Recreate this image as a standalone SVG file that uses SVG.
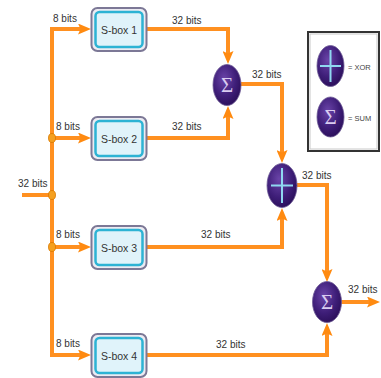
<svg xmlns="http://www.w3.org/2000/svg" width="381" height="378" viewBox="0 0 381 378">
<style>
.lbl{font-family:"Liberation Sans",Arial,sans-serif;font-size:10px;fill:#333}
.sbt{font-family:"Liberation Sans",Arial,sans-serif;font-size:10.5px;fill:#333;text-anchor:middle}
.leg{font-family:"Liberation Sans",Arial,sans-serif;font-size:7.5px;fill:#444}
.wire{fill:none;stroke:#ff9020;stroke-width:4;stroke-linejoin:miter}
.arr{marker-end:url(#ah)}
.outer{fill:#ecebf2;stroke:#7c7896;stroke-width:2}
.inner{fill:#e0f3fa;stroke:#2db3d4;stroke-width:2.5}
.op{fill:url(#pg);stroke:#6d5a96;stroke-width:0.8}
.sig{font-family:"Liberation Serif","DejaVu Serif",serif;font-size:21px;fill:#d9ccf0;text-anchor:middle}
.plus{stroke:#8fd8f0;stroke-width:2;fill:none}
.dot{fill:#f5a020;stroke:#d87800;stroke-width:0.8}
</style>
<defs>
<marker id="ah" markerUnits="userSpaceOnUse" viewBox="0 0 13 11" refX="5" refY="5.5" markerWidth="13" markerHeight="11" orient="auto">
<path d="M0,0 L13,5.5 L0,11 L2.5,5.5 z" fill="#ff8a10"/>
</marker>
<radialGradient id="pg" cx="40%" cy="35%" r="70%">
<stop offset="0" stop-color="#6a44a8"/>
<stop offset="0.6" stop-color="#3e1e78"/>
<stop offset="1" stop-color="#2a0e58"/>
</radialGradient>
</defs>

<g id="connectors">
<path class="wire" d="M22,195 H52"/>
<path class="wire arr" d="M52,195 V29 H83"/>
<path class="wire arr" d="M52,195 V355 H83"/>
<path class="wire arr" d="M52,138 H83"/>
<path class="wire arr" d="M52,247 H83"/>
<path class="wire arr" d="M146,29 H228 V56"/>
<path class="wire arr" d="M146,138 H228 V114"/>
<path class="wire arr" d="M241,84 H282 V155"/>
<path class="wire arr" d="M146,247 H282 V216"/>
<path class="wire arr" d="M297,185 H327 V274"/>
<path class="wire arr" d="M146,355 H327 V331"/>
<path class="wire arr" d="M341,302 H372"/>
<ellipse class="dot" cx="52" cy="195" rx="3.5" ry="4.5"/>
<ellipse class="dot" cx="52" cy="138" rx="3.5" ry="4.5"/>
<ellipse class="dot" cx="52" cy="247" rx="3.5" ry="4.5"/>
<text class="lbl" x="18" y="187">32 bits</text>
<text class="lbl" x="53" y="21.5">8 bits</text>
<text class="lbl" x="56" y="130">8 bits</text>
<text class="lbl" x="56" y="238">8 bits</text>
<text class="lbl" x="56" y="347">8 bits</text>
<text class="lbl" x="172" y="23.5">32 bits</text>
<text class="lbl" x="172" y="130">32 bits</text>
<text class="lbl" x="252" y="77.5">32 bits</text>
<text class="lbl" x="201" y="238">32 bits</text>
<text class="lbl" x="302" y="178.5">32 bits</text>
<text class="lbl" x="216" y="347.5">32 bits</text>
<text class="lbl" x="348" y="292.5">32 bits</text>
</g>

<g id="sbox1">
<rect class="outer" x="91.5" y="8" width="55" height="43" rx="6"/>
<rect class="inner" x="95.5" y="12" width="47" height="35" rx="4"/>
<text class="sbt" x="119" y="33.5">S-box 1</text>
</g>
<g id="sbox2">
<rect class="outer" x="91.5" y="117" width="55" height="43" rx="6"/>
<rect class="inner" x="95.5" y="121" width="47" height="35" rx="4"/>
<text class="sbt" x="119" y="142.5">S-box 2</text>
</g>
<g id="sbox3">
<rect class="outer" x="91.5" y="226" width="55" height="43" rx="6"/>
<rect class="inner" x="95.5" y="230" width="47" height="35" rx="4"/>
<text class="sbt" x="119" y="251.5">S-box 3</text>
</g>
<g id="sbox4">
<rect class="outer" x="91.5" y="334" width="55" height="43" rx="6"/>
<rect class="inner" x="95.5" y="338" width="47" height="35" rx="4"/>
<text class="sbt" x="119" y="359.5">S-box 4</text>
</g>

<g id="sum1">
<ellipse class="op" cx="227" cy="85" rx="14" ry="20.5"/>
<text class="sig" x="227" y="92">Σ</text>
</g>
<g id="xor1">
<ellipse class="op" cx="282" cy="185.5" rx="15" ry="22"/>
<path class="plus" d="M271,185.5 H293 M282,168 V203"/>
</g>
<g id="sum2">
<ellipse class="op" cx="327" cy="302" rx="14.5" ry="20.5"/>
<text class="sig" x="327" y="309">Σ</text>
</g>

<g id="legend">
<rect x="308" y="32" width="71" height="119" fill="#fff" stroke="#333" stroke-width="2"/>
<rect x="310" y="34" width="67" height="115" fill="none" stroke="#c8c8c8" stroke-width="1"/>
<ellipse class="op" cx="330.5" cy="66" rx="13.5" ry="20.5"/>
<path class="plus" d="M320,66 H341 M330.5,50 V82"/>
<text class="leg" x="348" y="69.5">=  XOR</text>
<ellipse class="op" cx="330.5" cy="117" rx="13.5" ry="20"/>
<text class="sig" x="330.5" y="124">Σ</text>
<text class="leg" x="348" y="120.5">=  SUM</text>
</g>
</svg>
